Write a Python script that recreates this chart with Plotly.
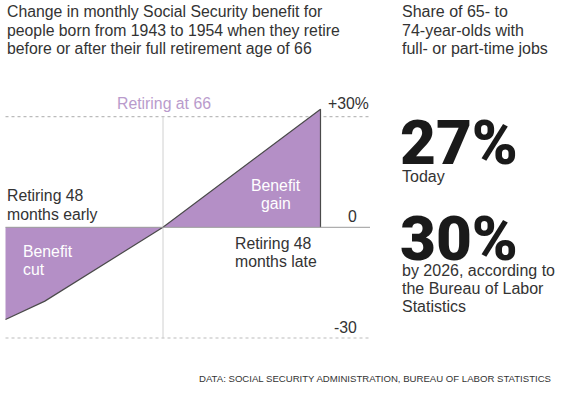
import plotly.graph_objects as go

# Data
months = [-48, -36, 0, 48]          # months relative to full retirement age 66
change_pct = [-25, -20, 0, 32]       # change in monthly benefit, %
ref_levels = [30, -30]               # dotted reference lines
tick_labels = ["+30%", "0", "-30"]
tick_values = [30, 0, -30]
share_values = ["27%", "30%"]
share_labels = ["Today", "by 2026, according to<br>the Bureau of Labor<br>Statistics"]

W, H = 567, 394
PX_PER_MONTH = 315 / 96
ZERO_X = 163
PX_PER_PCT = 221.4 / 60
ZERO_Y = 227.3

xr = [-ZERO_X / PX_PER_MONTH, (W - ZERO_X) / PX_PER_MONTH]
yr = [-(H - ZERO_Y) / PX_PER_PCT, ZERO_Y / PX_PER_PCT]
x_end = (370 - ZERO_X) / PX_PER_MONTH

FONT = "Liberation Sans, Arial, sans-serif"
TXT = "#333333"
PURPLE = "#b48fc6"

fig = go.Figure()

# filled area
fig.add_trace(go.Scatter(
    x=[months[0]] + months + [months[-1]],
    y=[0] + change_pct + [0],
    fill="toself", fillcolor=PURPLE, mode="lines",
    line=dict(width=0), hoverinfo="skip", showlegend=False))
# outline along benefit curve and right edge
fig.add_trace(go.Scatter(
    x=months + [months[-1]], y=change_pct + [0],
    mode="lines", line=dict(color="#4a4a4a", width=1.2),
    hoverinfo="skip", showlegend=False))

shapes = []
for lv in ref_levels:
    shapes.append(dict(type="line", xref="x", yref="y", x0=months[0], x1=x_end,
                       y0=lv, y1=lv, line=dict(color="#bbbbbb", width=1.2, dash="dot"),
                       layer="below"))
shapes.append(dict(type="line", xref="x", yref="y", x0=0, x1=0, y0=-30, y1=30,
                   line=dict(color="#d0d0d0", width=1), layer="below"))
shapes.append(dict(type="line", xref="x", yref="y", x0=months[0], x1=x_end, y0=0, y1=0,
                   line=dict(color="#9a9a9a", width=1), layer="above"))

ann = []
def px(x, y, text, size=15.8, color=TXT, xanchor="left", spacing=18.3, weight=None, family=FONT):
    f = dict(family=family, size=size, color=color)
    if weight:
        f["weight"] = weight
    for i, line in enumerate(text.split("<br>")):
        ann.append(dict(xref="paper", yref="paper", x=x / W, y=1 - (y + i * spacing) / H, text=line,
                        showarrow=False, xanchor=xanchor, yanchor="middle", font=f))

px(5, 12, "Change in monthly Social Security benefit for<br>people born from 1943 to 1954 when they retire<br>before or after their full retirement age of 66", size=15.8)
px(400, 12, "Share of 65- to<br>74-year-olds with<br>full- or part-time jobs", size=16)

px(164, 103, "Retiring at 66", color="#b99bcc", xanchor="center")
tick_x = [348, 352, 345]
tick_y = [103, 216, 327]
for t, xx, yy in zip(tick_labels, tick_x, tick_y):
    px(xx, yy, t, xanchor="center")

px(5, 196, "Retiring 48<br>months early")
px(276, 185, "Benefit<br>gain", color="white", xanchor="center")
px(21, 251, "Benefit<br>cut", color="white")
px(233, 243, "Retiring 48<br>months late")

px(398, 143, share_values[0], size=62, color="#1a1a1a", weight=900, family="Roboto, Liberation Sans, sans-serif")
px(400, 176, share_labels[0], size=16)
px(398, 238, share_values[1], size=62, color="#1a1a1a", weight=900, family="Roboto, Liberation Sans, sans-serif")
px(400, 270, share_labels[1], size=16, spacing=18)

px(553, 378, "DATA: SOCIAL SECURITY ADMINISTRATION, BUREAU OF LABOR STATISTICS", size=9.6, xanchor="right")

fig.update_layout(
    width=W, height=H, margin=dict(l=0, r=0, t=0, b=0),
    paper_bgcolor="white", plot_bgcolor="white",
    xaxis=dict(range=xr, visible=False, fixedrange=True),
    yaxis=dict(range=yr, visible=False, fixedrange=True),
    shapes=shapes, annotations=ann, showlegend=False)

fig.write_html("out.html", config={"displayModeBar": False},
               post_script="document.body.style.margin='0px';")
